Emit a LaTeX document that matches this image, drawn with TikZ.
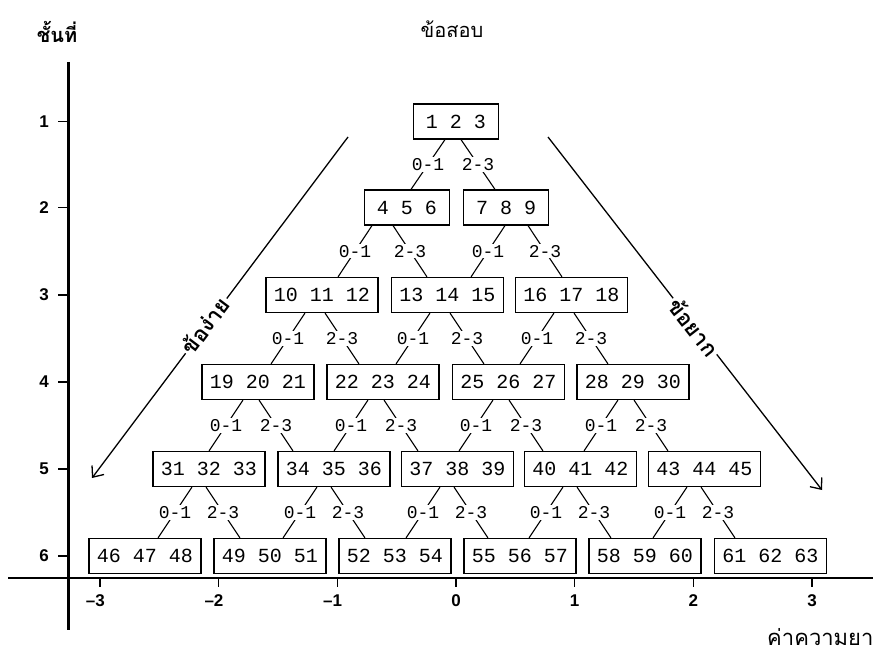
\documentclass[tikz,border=0pt]{standalone}
\usepackage{fontspec}
\setmainfont{Liberation Serif}
\newfontfamily\thaifont[Script=Thai]{Loma}
\newfontfamily\monofont{Liberation Mono}
\newfontfamily\sansfont{Liberation Sans}
\usetikzlibrary{arrows.meta,calc}
\tikzset{
  bx/.style={draw, line width=1.2pt, minimum height=35pt, inner sep=0pt,
    font=\monofont\fontsize{20}{20}\selectfont},
  bs/.style={bx, minimum width=85pt},
  bl/.style={bx, minimum width=112pt},
  ln/.style={line width=1.1pt},
  lab/.style={fill=white, inner sep=1pt, font=\monofont\fontsize{18}{18}\selectfont},
  axl/.style={font=\sansfont\bfseries\fontsize{17}{17}\selectfont, inner sep=0pt},
  arr/.style={line width=1.3pt, -{Straight Barb[length=9pt,width=15pt,line width=1.3pt]}},
  thl/.style={fill=white, inner sep=2pt, font=\thaifont\bfseries\fontsize{22}{26}\selectfont}
}
\newcommand\lo[3]{\draw[ln] let \p1=(#1.south), \p2=(#2.north) in (#3pt+17pt,\y1) -- (#3pt-17pt,\y2) node[midway,lab]{0-1};}
\newcommand\hi[3]{\draw[ln] let \p1=(#1.south), \p2=(#2.north) in (#3pt-17pt,\y1) -- (#3pt+17pt,\y2) node[midway,lab]{2-3};}
\begin{document}
\begin{tikzpicture}[x=1pt,y=-1pt]
\useasboundingbox (0,0) rectangle (873,652);
\fill[white] (0,0) rectangle (873,652);
% axes
\draw[line width=3pt] (68,62) -- (68,630);
\draw[line width=1.8pt] (8,578) -- (873,578);
\foreach \n/\y in {1/121.5,2/207.5,3/295,4/382,5/469,6/556}{
  \draw[line width=1.2pt] (58,\y) -- (68,\y);
  \node[axl] (yl\n) at (44,\y) {\n};
}
\foreach \n/\t/\x in {m3/\llap{–}3/100,m2/\llap{–}2/218.7,m1/\llap{–}1/337.3,z/0/456,p1/1/574.7,p2/2/693.3,p3/3/812}{
  \draw[line width=1.2pt] (\x,578) -- (\x,587);
  \node[axl] (xl\n) at (\x,601) {\t};
}
% Thai titles
\node[font=\thaifont\bfseries\fontsize{20}{24}\selectfont, anchor=base, inner sep=0pt] (ytitle) at (57,43) {ชั้นที่};
\node[font=\thaifont\fontsize{20}{24}\selectfont, anchor=base, inner sep=0pt] (title) at (452,38) {ข้อสอบ};
\node[font=\thaifont\fontsize{22}{26}\selectfont, anchor=base west, inner sep=0pt] (xtitle) at (767,645) {ค่าความยาก};
% side arrows
\coordinate (la1) at (348,137); \coordinate (la2) at (92,478);
\coordinate (ra1) at (548,137); \coordinate (ra2) at (822,490);
\draw[arr] (la1) -- (la2);
\draw[arr] (ra1) -- (ra2);
\node[thl, rotate=53] (easy) at (205,325) {ข้อง่าย};
\node[thl, rotate=-52] (hard) at (694,327) {ข้อยาก};
% boxes
\node[bs] (b1) at (456,121.5) {1 2 3};
\node[bs] (b4) at (407,207.5) {4 5 6};
\node[bs] (b7) at (506,207.5) {7 8 9};
\node[bl] (b10) at (322,295) {10 11 12};
\node[bl] (b13) at (447.5,295) {13 14 15};
\node[bl] (b16) at (571.5,295) {16 17 18};
\node[bl] (b19) at (258,382) {19 20 21};
\node[bl] (b22) at (383,382) {22 23 24};
\node[bl] (b25) at (508.5,382) {25 26 27};
\node[bl] (b28) at (633,382) {28 29 30};
\node[bl] (b31) at (209,469) {31 32 33};
\node[bl] (b34) at (334,469) {34 35 36};
\node[bl] (b37) at (457.5,469) {37 38 39};
\node[bl] (b40) at (580.5,469) {40 41 42};
\node[bl] (b43) at (704.5,469) {43 44 45};
\node[bl] (b46) at (145,556) {46 47 48};
\node[bl] (b49) at (270,556) {49 50 51};
\node[bl] (b52) at (395,556) {52 53 54};
\node[bl] (b55) at (520,556) {55 56 57};
\node[bl] (b58) at (645,556) {58 59 60};
\node[bl] (b61) at (770.5,556) {61 62 63};
% links
\lo{b1}{b4}{428} \hi{b1}{b7}{478}
\lo{b4}{b10}{355} \hi{b4}{b13}{410}
\lo{b7}{b13}{488} \hi{b7}{b16}{545}
\lo{b10}{b19}{288} \hi{b10}{b22}{342}
\lo{b13}{b22}{413} \hi{b13}{b25}{467}
\lo{b16}{b25}{537} \hi{b16}{b28}{591}
\lo{b19}{b31}{226} \hi{b19}{b34}{276}
\lo{b22}{b34}{351} \hi{b22}{b37}{401}
\lo{b25}{b37}{476} \hi{b25}{b40}{526}
\lo{b28}{b40}{601} \hi{b28}{b43}{651}
\lo{b31}{b46}{175} \hi{b31}{b49}{223}
\lo{b34}{b49}{300} \hi{b34}{b52}{348}
\lo{b37}{b52}{423} \hi{b37}{b55}{471}
\lo{b40}{b55}{546} \hi{b40}{b58}{594}
\lo{b43}{b58}{670} \hi{b43}{b61}{718}
\end{tikzpicture}
\end{document}
